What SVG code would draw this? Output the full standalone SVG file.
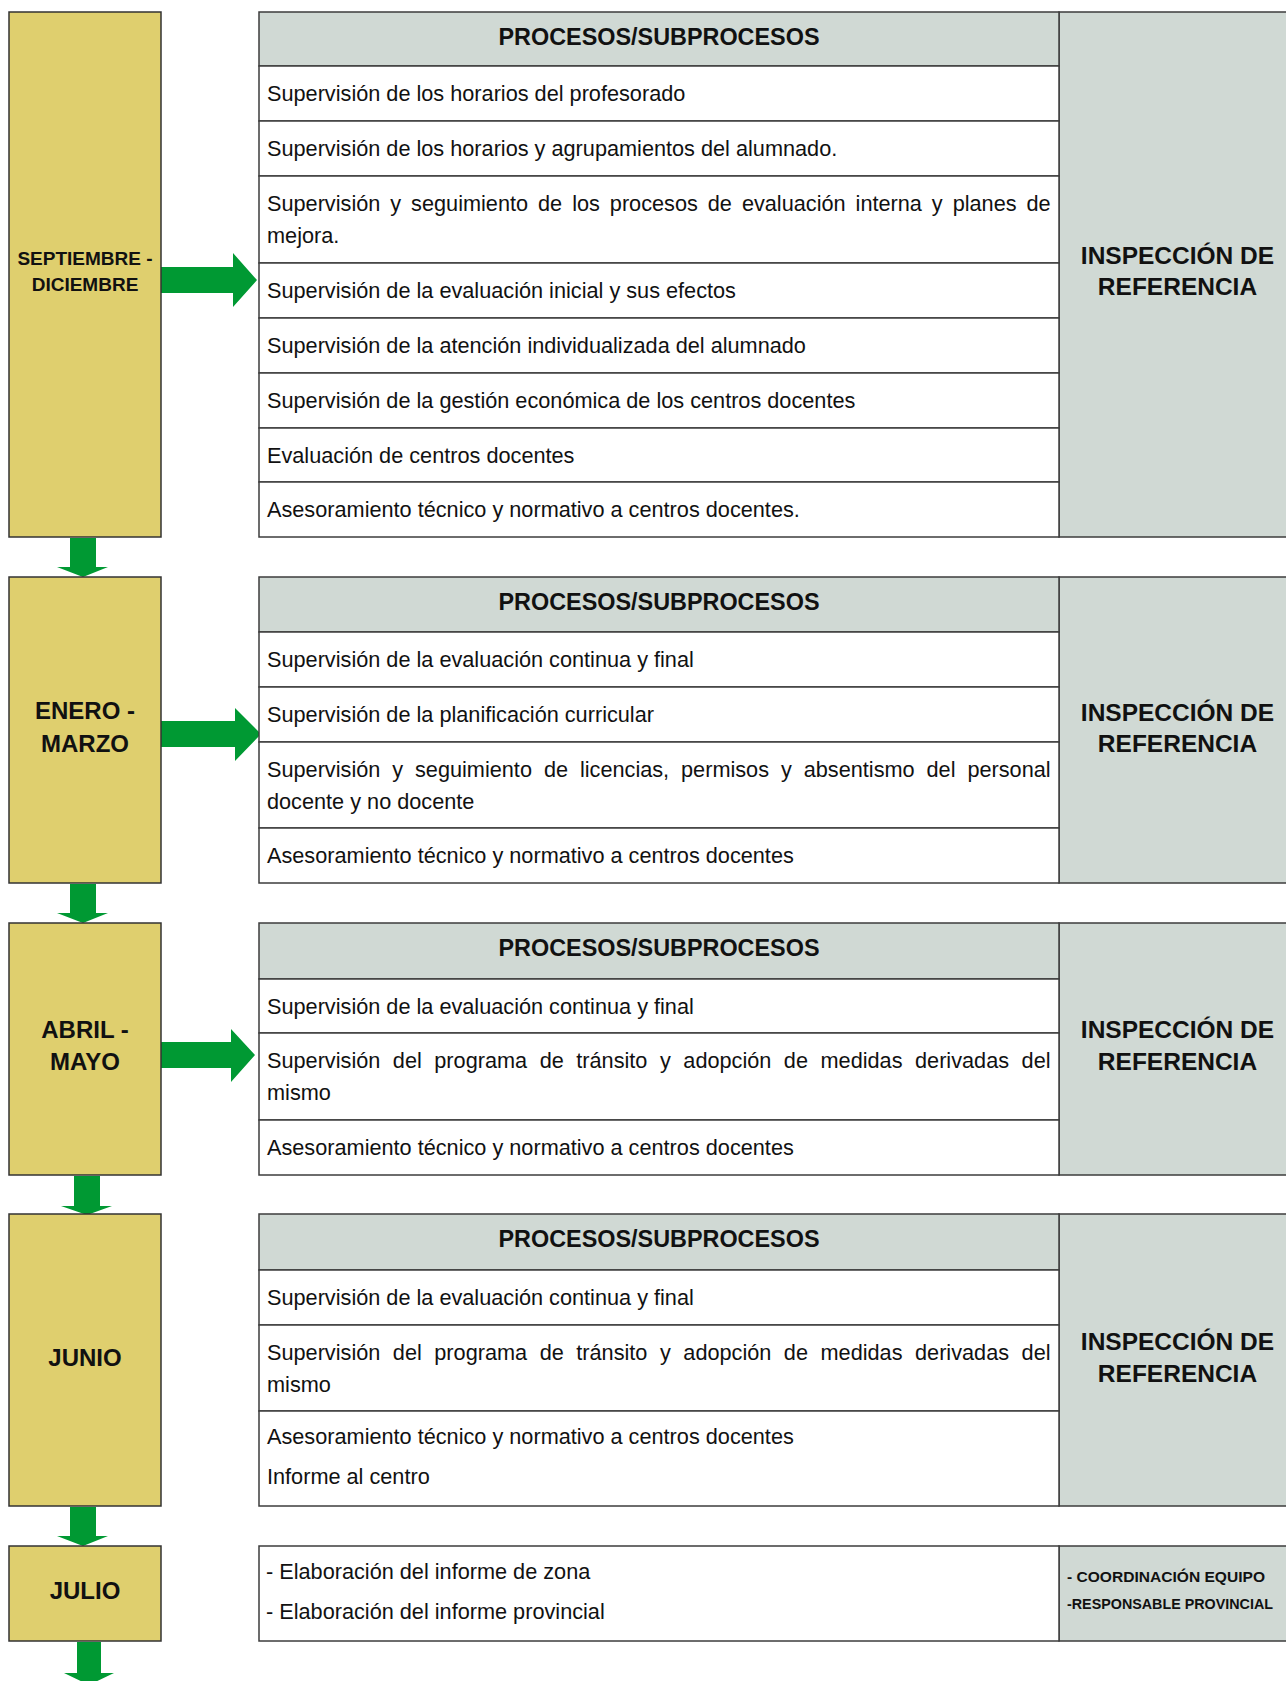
<svg xmlns="http://www.w3.org/2000/svg" width="1286" height="1681" viewBox="0 0 1286 1681">
<style>
.bg{fill:#ffffff}
.month{fill:#dfcf6e;stroke:#333333;stroke-width:1.5}
.hdr{fill:#d0d9d4;stroke:#3c3c3c;stroke-width:1.5}
.cell{fill:#ffffff;stroke:#3c3c3c;stroke-width:1.5}
.ref{fill:#d0d9d4;stroke:#3c3c3c;stroke-width:1.5}
.arrow{fill:#009933}
.t{font-family:"Liberation Sans",Arial,sans-serif;font-size:21.7px;fill:#111111}
.b{font-family:"Liberation Sans",Arial,sans-serif;font-weight:bold;fill:#111111;text-anchor:middle}
.mh{font-size:24px}
.ms{font-size:19px}
.ph{font-size:23.4px}
.ir{font-size:24.5px}
.sm{font-family:"Liberation Sans",Arial,sans-serif;font-weight:bold;font-size:15px;fill:#111111}
</style>
<rect class="bg" x="0" y="0" width="1286" height="1681"/>

<g id="connectors">
  <polygon class="arrow" points="161,267 233,267 233,253 257,280 233,307 233,293 161,293"/>
  <polygon class="arrow" points="160,721 235,721 235,708 261,734 235,761 235,747 160,747"/>
  <polygon class="arrow" points="161,1042 231,1042 231,1029 255,1055 231,1082 231,1068 161,1068"/>
  <polygon class="arrow" points="70,538 96,538 96,567 108,567 83,577 57,567 70,567"/>
  <polygon class="arrow" points="70,884 96,884 96,913 108,913 83,923 57,913 70,913"/>
  <polygon class="arrow" points="74,1176 100,1176 100,1206 112,1206 87,1215 61,1206 74,1206"/>
  <polygon class="arrow" points="70,1507 96,1507 96,1536 108,1536 83,1546 57,1536 70,1536"/>
  <polygon class="arrow" points="77,1642 101,1642 101,1673 114,1673 89,1685 64,1673 77,1673"/>
</g>

<!-- SEPTIEMBRE - DICIEMBRE -->
<g id="month-sep-dic">
  <rect class="month" x="9" y="12" width="152" height="525"/>
  <text class="b ms" x="85" y="265">SEPTIEMBRE -</text>
  <text class="b ms" x="85" y="291">DICIEMBRE</text>
</g>
<g id="table-sep-dic">
  <rect class="ref" x="1059" y="12" width="237" height="525"/>
  <rect class="hdr" x="259" y="12" width="800" height="54"/>
  <rect class="cell" x="259" y="66" width="800" height="55"/>
  <rect class="cell" x="259" y="121" width="800" height="55"/>
  <rect class="cell" x="259" y="176" width="800" height="87"/>
  <rect class="cell" x="259" y="263" width="800" height="55"/>
  <rect class="cell" x="259" y="318" width="800" height="55"/>
  <rect class="cell" x="259" y="373" width="800" height="55"/>
  <rect class="cell" x="259" y="428" width="800" height="54"/>
  <rect class="cell" x="259" y="482" width="800" height="55"/>
  <text class="b ph" x="659" y="45">PROCESOS/SUBPROCESOS</text>
  <text class="t" x="267" y="100.5">Supervisión de los horarios del profesorado</text>
  <text class="t" x="267" y="155.5">Supervisión de los horarios y agrupamientos del alumnado.</text>
  <text class="t" x="267" y="210.5" word-spacing="3.95">Supervisión y seguimiento de los procesos de evaluación interna y planes de</text>
  <text class="t" x="267" y="242.5">mejora.</text>
  <text class="t" x="267" y="297.5">Supervisión de la evaluación inicial y sus efectos</text>
  <text class="t" x="267" y="352.5">Supervisión de la atención individualizada del alumnado</text>
  <text class="t" x="267" y="407.5">Supervisión de la gestión económica de los centros docentes</text>
  <text class="t" x="267" y="462.5">Evaluación de centros docentes</text>
  <text class="t" x="267" y="516.5">Asesoramiento técnico y normativo a centros docentes.</text>
  <text class="b ir" x="1177.5" y="264">INSPECCIÓN DE</text>
  <text class="b ir" x="1177.5" y="295">REFERENCIA</text>
</g>

<!-- ENERO - MARZO -->
<g id="month-ene-mar">
  <rect class="month" x="9" y="577" width="152" height="306"/>
  <text class="b mh" x="85" y="719">ENERO -</text>
  <text class="b mh" x="85" y="752">MARZO</text>
</g>
<g id="table-ene-mar">
  <rect class="ref" x="1059" y="577" width="237" height="306"/>
  <rect class="hdr" x="259" y="577" width="800" height="55"/>
  <rect class="cell" x="259" y="632" width="800" height="55"/>
  <rect class="cell" x="259" y="687" width="800" height="55"/>
  <rect class="cell" x="259" y="742" width="800" height="86"/>
  <rect class="cell" x="259" y="828" width="800" height="55"/>
  <text class="b ph" x="659" y="610">PROCESOS/SUBPROCESOS</text>
  <text class="t" x="267" y="666.5">Supervisión de la evaluación continua y final</text>
  <text class="t" x="267" y="721.5">Supervisión de la planificación curricular</text>
  <text class="t" x="267" y="776.5" word-spacing="5.9">Supervisión y seguimiento de licencias, permisos y absentismo del personal</text>
  <text class="t" x="267" y="808.5">docente y no docente</text>
  <text class="t" x="267" y="862.5">Asesoramiento técnico y normativo a centros docentes</text>
  <text class="b ir" x="1177.5" y="721">INSPECCIÓN DE</text>
  <text class="b ir" x="1177.5" y="752">REFERENCIA</text>
</g>

<!-- ABRIL - MAYO -->
<g id="month-abr-may">
  <rect class="month" x="9" y="923" width="152" height="252"/>
  <text class="b mh" x="85" y="1038">ABRIL -</text>
  <text class="b mh" x="85" y="1070">MAYO</text>
</g>
<g id="table-abr-may">
  <rect class="ref" x="1059" y="923" width="237" height="252"/>
  <rect class="hdr" x="259" y="923" width="800" height="56"/>
  <rect class="cell" x="259" y="979" width="800" height="54"/>
  <rect class="cell" x="259" y="1033" width="800" height="87"/>
  <rect class="cell" x="259" y="1120" width="800" height="55"/>
  <text class="b ph" x="659" y="956">PROCESOS/SUBPROCESOS</text>
  <text class="t" x="267" y="1013.5">Supervisión de la evaluación continua y final</text>
  <text class="t" x="267" y="1067.5" word-spacing="6.5">Supervisión del programa de tránsito y adopción de medidas derivadas del</text>
  <text class="t" x="267" y="1099.5">mismo</text>
  <text class="t" x="267" y="1154.5">Asesoramiento técnico y normativo a centros docentes</text>
  <text class="b ir" x="1177.5" y="1038">INSPECCIÓN DE</text>
  <text class="b ir" x="1177.5" y="1070">REFERENCIA</text>
</g>

<!-- JUNIO -->
<g id="month-jun">
  <rect class="month" x="9" y="1214" width="152" height="292"/>
  <text class="b mh" x="85" y="1366">JUNIO</text>
</g>
<g id="table-jun">
  <rect class="ref" x="1059" y="1214" width="237" height="292"/>
  <rect class="hdr" x="259" y="1214" width="800" height="56"/>
  <rect class="cell" x="259" y="1270" width="800" height="55"/>
  <rect class="cell" x="259" y="1325" width="800" height="86"/>
  <rect class="cell" x="259" y="1411" width="800" height="95"/>
  <text class="b ph" x="659" y="1247">PROCESOS/SUBPROCESOS</text>
  <text class="t" x="267" y="1304.5">Supervisión de la evaluación continua y final</text>
  <text class="t" x="267" y="1359.5" word-spacing="6.5">Supervisión del programa de tránsito y adopción de medidas derivadas del</text>
  <text class="t" x="267" y="1391.5">mismo</text>
  <text class="t" x="267" y="1444">Asesoramiento técnico y normativo a centros docentes</text>
  <text class="t" x="267" y="1484">Informe al centro</text>
  <text class="b ir" x="1177.5" y="1350">INSPECCIÓN DE</text>
  <text class="b ir" x="1177.5" y="1382">REFERENCIA</text>
</g>

<!-- JULIO -->
<g id="month-jul">
  <rect class="month" x="9" y="1546" width="152" height="95"/>
  <text class="b mh" x="85" y="1599">JULIO</text>
</g>
<g id="table-jul">
  <rect class="ref" x="1059" y="1546" width="237" height="95"/>
  <rect class="cell" x="259" y="1546" width="800" height="95"/>
  <text class="t" x="266" y="1579">- Elaboración del informe de zona</text>
  <text class="t" x="266" y="1619">- Elaboración del informe provincial</text>
  <text class="sm" x="1067" y="1582" textLength="198" lengthAdjust="spacingAndGlyphs">- COORDINACIÓN EQUIPO</text>
  <text class="sm" x="1067" y="1609" textLength="206" lengthAdjust="spacingAndGlyphs">-RESPONSABLE PROVINCIAL</text>
</g>
</svg>
